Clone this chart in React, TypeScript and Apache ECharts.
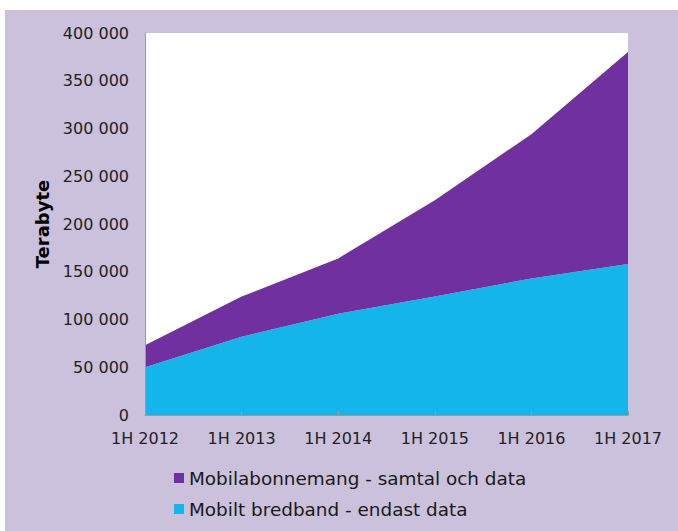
import React, { useEffect, useRef } from "react";
import * as echarts from "echarts";

const categories = ["1H 2012", "1H 2013", "1H 2014", "1H 2015", "1H 2016", "1H 2017"];
const bredband = [50000, 82000, 106000, 124000, 143000, 158000];
const abonnemang = [23000, 42000, 58000, 101000, 151000, 222000];
const seriesNames = ["Mobilabonnemang - samtal och data", "Mobilt bredband - endast data"];
const yTicks = [0, 50000, 100000, 150000, 200000, 250000, 300000, 350000, 400000];

const fmt = (v: number) => (v === 0 ? "0" : String(v).replace(/\B(?=(\d{3})+(?!\d))/g, " "));

export default function App() {
  const ref = useRef<HTMLDivElement>(null);
  useEffect(() => {
    const chart = echarts.init(ref.current!, null, { renderer: "svg" });
    const font = "DejaVu Sans, Verdana, sans-serif";
    chart.setOption({
      animation: false,
      backgroundColor: "#CBC1DC",
      textStyle: { fontFamily: font },
      grid: {
        left: 140,
        right: 50,
        top: 23,
        bottom: 116,
        show: true,
        backgroundColor: "#ffffff",
        borderWidth: 0,
      },
      legend: {
        orient: "vertical",
        left: 164,
        top: 454,
        itemWidth: 10,
        itemHeight: 10,
        itemGap: 13,
        icon: "rect",
        data: seriesNames,
        textStyle: { fontFamily: font, fontSize: 18.4, color: "#1a1a1a" },
      },
      xAxis: {
        type: "category",
        data: categories,
        boundaryGap: false,
        z: 10,
        axisLine: { lineStyle: { color: "#9a9a9a", width: 1 } },
        axisTick: { inside: true, length: 4, lineStyle: { color: "#9a9a9a" } },
        axisLabel: { fontFamily: font, fontSize: 16, color: "#222", margin: 15 },
        splitLine: { show: false },
      },
      yAxis: {
        type: "value",
        min: yTicks[0],
        max: yTicks[yTicks.length - 1],
        interval: 50000,
        z: 10,
        name: "Terabyte",
        nameLocation: "middle",
        nameRotate: 90,
        nameGap: 86,
        nameTextStyle: { fontFamily: font, fontSize: 18, fontWeight: "bold", color: "#000" },
        axisLine: { show: true, lineStyle: { color: "#9a9a9a", width: 1 } },
        axisTick: { show: false },
        splitLine: { show: false },
        axisLabel: { fontFamily: font, fontSize: 16, color: "#222", margin: 16, formatter: fmt },
      },
      series: [
        {
          name: seriesNames[1],
          type: "line",
          stack: "total",
          data: bredband,
          symbol: "none",
          lineStyle: { width: 0 },
          itemStyle: { color: "#13B5EA" },
          areaStyle: { color: "#13B5EA", opacity: 1 },
        },
        {
          name: seriesNames[0],
          type: "line",
          stack: "total",
          data: abonnemang,
          symbol: "none",
          lineStyle: { width: 0 },
          itemStyle: { color: "#7030A0" },
          areaStyle: { color: "#7030A0", opacity: 1 },
        },
      ],
    });
    return () => chart.dispose();
  }, []);
  return (
    <div style={{ position: "absolute", left: 0, top: 0, width: 678, height: 531, background: "#fff" }}>
      <div ref={ref} style={{ position: "absolute", left: 5, top: 10, width: 673, height: 521 }} />
    </div>
  );
}
